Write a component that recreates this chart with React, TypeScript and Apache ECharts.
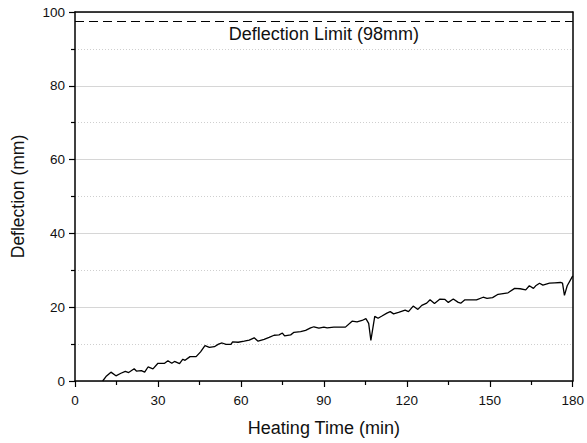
import React, { useEffect, useRef } from "react";
import * as echarts from "echarts";

const timeMin: number[] = [
  10, 11.2, 13, 14.8, 16.6, 18.2, 19.4, 21.4, 22.2, 24, 25.2, 26.4, 28.2, 30, 32.4, 33.6, 35, 36, 37.8, 39, 39.8,
  41.6, 43.8, 45.4, 47, 48.6, 50.4, 51.9, 53.2, 54.6, 56.4, 57, 59, 61.2, 63, 64.8, 66.2, 68.4, 70.2, 72, 73.8,
  75, 75.8, 78, 79.2, 81.6, 83.4, 85.2, 86.4, 88.2, 90, 91.2, 93.6, 95.5, 97.8, 100.2, 102, 103.8, 105.2, 106.2,
  107, 108.4, 109.6, 111, 112.8, 114, 115.2, 117, 119.4, 120.6, 122.3, 124, 125.4, 127.2, 128.4, 130, 132, 133.8,
  135, 136.8, 138.6, 139.5, 141, 143, 145.2, 147.6, 149, 151, 153, 156.6, 159, 161, 163, 164.3, 165.8, 166.6, 168,
  169.2, 171.6, 173.5, 175.6, 176.3, 177, 178, 180,
];
const deflection: number[] = [
  0, 1.2, 2.4, 1.4, 2.1, 2.6, 2.3, 3.3, 2.7, 2.8, 2.4, 3.8, 3.3, 4.8, 4.8, 5.5, 4.8, 5.3, 4.7, 5.9, 5.6,
  6.6, 6.6, 7.9, 9.6, 9.1, 9.3, 10.0, 10.3, 9.9, 9.9, 10.6, 10.5, 10.8, 11.1, 11.7, 10.8, 11.3, 11.8, 12.4, 12.5,
  13.0, 12.2, 12.5, 13.2, 13.4, 13.7, 14.4, 14.7, 14.3, 14.6, 14.4, 14.6, 14.6, 14.6, 16.2, 16.0, 16.4, 16.9, 15.6,
  11.0, 17.5, 17.0, 17.6, 18.4, 18.8, 18.2, 18.6, 19.2, 18.8, 20.3, 19.4, 20.5, 21.1, 22.0, 21.0, 22.2, 22.1,
  21.3, 22.2, 21.3, 21.1, 22.0, 22.0, 22.0, 22.7, 22.4, 22.6, 23.5, 23.9, 25.1, 25.0, 24.7, 25.8, 25.1, 25.8, 26.5,
  26.0, 26.5, 26.6, 26.7, 26.5, 23.2, 25.8, 28.5,
];
const limitValue = 97.6;
const limitLabel = "Deflection Limit (98mm)";
const xTicks = { min: 0, max: 180, interval: 30 };
const yTicks = { min: 0, max: 100, interval: 20 };

export default function App() {
  const ref = useRef<HTMLDivElement>(null);
  useEffect(() => {
    if (!ref.current) return;
    const chart = echarts.init(ref.current, null, { renderer: "svg" });
    const font = "Liberation Sans";
    const data = timeMin.map((t, i) => [t, deflection[i]]);
    chart.setOption({
      animation: false,
      textStyle: { fontFamily: font },
      grid: { left: 75, right: 12, top: 12, bottom: 62 },
      xAxis: [
        {
          type: "value",
          min: xTicks.min,
          max: xTicks.max,
          interval: xTicks.interval,
          name: "Heating Time (min)",
          nameLocation: "middle",
          nameGap: 38,
          nameTextStyle: { fontSize: 18, color: "#111", fontFamily: font },
          axisLine: { show: true, lineStyle: { color: "#000", width: 1.5 } },
          axisTick: { show: true, inside: false, length: 6, lineStyle: { color: "#000", width: 1.2 } },
          minorTick: { show: true, splitNumber: 2, length: 4, lineStyle: { color: "#000", width: 1.2 } },
          axisLabel: { fontSize: 13.5, color: "#111", margin: 12, fontFamily: font },
          splitLine: { show: false },
        },
        {
          type: "value",
          position: "top",
          min: xTicks.min,
          max: xTicks.max,
          axisLine: { show: true, onZero: false, lineStyle: { color: "#000", width: 1.5 } },
          axisTick: { show: false },
          axisLabel: { show: false },
          splitLine: { show: false },
        },
      ],
      yAxis: [
        {
          type: "value",
          min: yTicks.min,
          max: yTicks.max,
          interval: yTicks.interval,
          name: "Deflection (mm)",
          nameLocation: "middle",
          nameGap: 48,
          nameTextStyle: { fontSize: 17.5, color: "#111", fontFamily: font },
          axisLine: { show: true, lineStyle: { color: "#000", width: 1.5 } },
          axisTick: { show: true, inside: false, length: 6, lineStyle: { color: "#000", width: 1.2 } },
          minorTick: { show: true, splitNumber: 2, length: 4, lineStyle: { color: "#000", width: 1.2 } },
          axisLabel: { fontSize: 13.5, color: "#111", margin: 10, fontFamily: font },
          splitLine: { show: true, lineStyle: { color: "#d6d6d6", width: 1 } },
          minorSplitLine: { show: true, lineStyle: { color: "#cfcfcf", width: 1, type: [1, 2] } },
        },
        {
          type: "value",
          position: "right",
          min: yTicks.min,
          max: yTicks.max,
          axisLine: { show: true, onZero: false, lineStyle: { color: "#000", width: 1.5 } },
          axisTick: { show: false },
          axisLabel: { show: false },
          splitLine: { show: false },
        },
      ],
      series: [
        {
          type: "line",
          data,
          showSymbol: false,
          symbol: "none",
          lineStyle: { color: "#000", width: 1.3 },
          z: 5,
          markLine: {
            silent: true,
            symbol: ["none", "none"],
            lineStyle: { color: "#000", width: 1, type: [9, 5] },
            label: {
              show: true,
              position: "insideMiddleBottom",
              formatter: limitLabel,
              fontSize: 18,
              color: "#111",
              fontFamily: font,
              distance: 4,
            },
            data: [{ yAxis: limitValue }],
          },
        },
      ],
    });
    return () => chart.dispose();
  }, []);
  return <div ref={ref} style={{ width: 587, height: 443, position: "absolute", left: 0, top: 0 }} />;
}
